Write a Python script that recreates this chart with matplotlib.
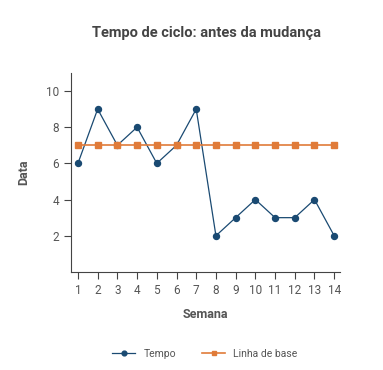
import matplotlib.pyplot as plt

semanas = list(range(1, 15))
tempo = [6, 9, 7, 8, 6, 7, 9, 2, 3, 4, 3, 3, 4, 2]
linha_base = [7] * 14

plt.rcParams['font.family'] = ['Roboto', 'DejaVu Sans']
cor_texto = "#555555"

fig = plt.figure(figsize=(3.83, 3.70), dpi=100)
ax = fig.add_axes([0.185, 0.265, 0.703, 0.538])

ax.plot(semanas, tempo, color="#1a4a72", marker="o", markersize=4.3, linewidth=0.9, label="Tempo")
ax.plot(semanas, linha_base, color="#e07b39", marker="s", markersize=3.8, linewidth=1.2, label="Linha de base")

ax.set_xlim(0.64, 14.3)
ax.set_ylim(0, 11)
ax.set_xticks(semanas)
ax.set_yticks([2, 4, 6, 8, 10])

for s in ["top", "right"]:
    ax.spines[s].set_visible(False)
for s in ["left", "bottom"]:
    ax.spines[s].set_color("#444444")
    ax.spines[s].set_linewidth(0.8)
ax.tick_params(colors="#444444", labelcolor=cor_texto, labelsize=8.5, length=5, width=0.8)

ax.set_xlabel("Semana", fontsize=9, fontweight="bold", color=cor_texto, labelpad=8)
ax.set_ylabel("Data", fontsize=9, fontweight="bold", color=cor_texto, labelpad=11)
fig.suptitle("Tempo de ciclo: antes da mudança", x=0.54, y=0.93, fontsize=10.5,
             fontweight="bold", color="#444444")

fig.legend(loc="center", bbox_to_anchor=(0.535, 0.043), ncol=2, frameon=False,
           fontsize=7.5, labelcolor=cor_texto, handlelength=2.2, columnspacing=2.5,
           markerscale=0.8)

fig.savefig("out.png", dpi=100)
